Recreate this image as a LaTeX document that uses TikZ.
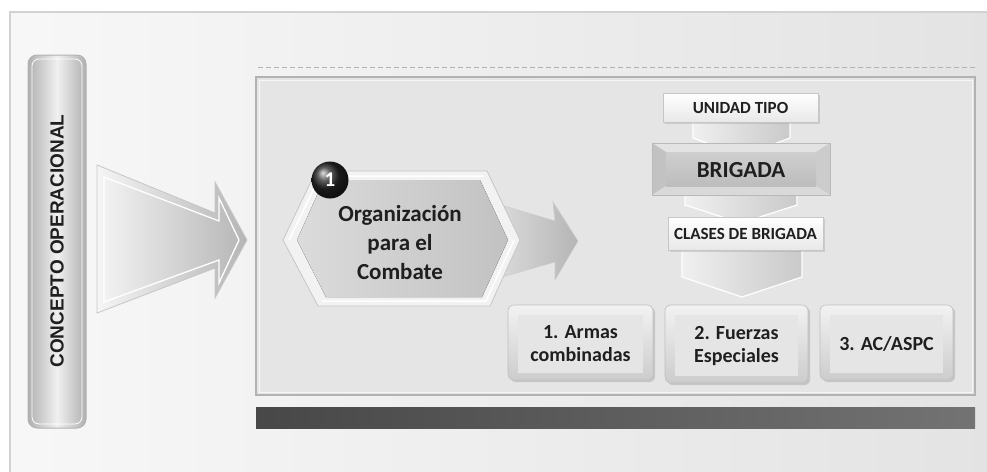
\documentclass[tikz,border=0pt]{standalone}
\usepackage{fontspec}
\newfontfamily\carl{Carlito}
\newfontfamily\libs{Liberation Sans}
\usetikzlibrary{shadows}
\tikzset{
  txt/.style={text=black!88},
  chev/.style={draw=white, line width=1.2, left color=gray!12, right color=gray!42},
  whitebox/.style={draw=gray!45, line width=0.6, top color=white, bottom color=gray!18, drop shadow={opacity=0.25}},
  btn/.style={draw=gray!50, line width=0.6, rounded corners=6, top color=gray!10, bottom color=gray!40, drop shadow={opacity=0.3}},
  btninner/.style={fill=gray!20},
  btntext/.style={txt, align=center, font=\carl\bfseries\fontsize{20}{23}\selectfont},
  captext/.style={txt, font=\carl\bfseries\fontsize{17}{19}\selectfont},
}
\begin{document}
\begin{tikzpicture}[x=1pt,y=-1pt]
\useasboundingbox (0,0) rectangle (987,471);
\fill[white] (0,0) rectangle (987,471);
% outer frame
\draw[gray!35, line width=1.5, left color=gray!6, right color=gray!22] (10,12) rectangle (1000,480);
% concepto bar
\draw[gray!60, line width=1, rounded corners=9, left color=gray!62, right color=gray!62, middle color=gray!12] (28,55) rectangle (86,428);
\draw[white, line width=0.8, rounded corners=7] (32,59) rectangle (82,424);
\node[rotate=90, font=\libs\bfseries\fontsize{19}{21}\selectfont, text=black!88] (concepto) at (57,241) {CONCEPTO OPERACIONAL};
% big arrow
\path[draw=gray!45, line width=0.8, left color=gray!8, right color=gray!58] (97,165) -- (215,213) -- (215,182) -- (247,240) -- (215,298) -- (215,268) -- (97,313) -- cycle;
\draw[white, line width=1.3] (104,177) -- (219,221) -- (219,198) -- (239,240) -- (219,283) -- (219,260) -- (104,302) -- cycle;
% dashed line and inner panel
\draw[gray!60, dashed, line width=0.8, dash pattern=on 5pt off 3pt] (258,67) -- (975,67);
\draw[gray!60, line width=2, fill=gray!20] (256,77) rectangle (975,395);
\draw[gray!8, line width=0.8] (259,80) rectangle (972,392);
% dark bar
\fill[left color=black!72, right color=black!55] (256,407) rectangle (975,428);
% small arrow
\path[left color=gray!18, right color=gray!58, draw=gray!40, line width=0.6] (470,196) -- (555,221) -- (553,202) -- (578,241) -- (555,280) -- (555,262) -- (470,286) -- cycle;
% hexagon
\draw[gray!45, line width=0.8, fill=gray!10] (283,240) -- (316,171) -- (487,171) -- (520,240) -- (490,306) -- (318,306) -- cycle;
\fill[left color=gray!28, right color=gray!48] (297,240) -- (324,180) -- (480,180) -- (508,240) -- (482,297) -- (326,297) -- cycle;
\draw[white, line width=1.5] (289,240) -- (320,176) -- (484,176);
\draw[white, line width=1.5] (514,240) -- (486,301) -- (322,301);
\node[circle, minimum size=37, inner sep=0, ball color=black!85, text=white, font=\carl\bfseries\fontsize{21}{22}\selectfont] (num) at (330,180) {1};
\node[txt, align=center, font=\carl\bfseries\fontsize{23}{29}\selectfont] (org) at (400,243) {Organización\\para el\\Combate};
% chevrons
\path[chev] (693,122) -- (790,122) -- (790,138) -- (742,156) -- (693,138) -- cycle;
\path[chev] (685,194) -- (797,194) -- (797,205) -- (741,223) -- (685,205) -- cycle;
\path[chev] (682,250) -- (802,250) -- (802,277) -- (742,297) -- (682,277) -- cycle;
% unidad tipo
\node[whitebox, minimum width=155, minimum height=29, inner sep=0, captext] (ut) at (740.5,107.5) {UNIDAD TIPO};
% brigada
\fill[gray!22] (652,143) -- (830,143) -- (816,152) -- (666,152) -- cycle;
\fill[gray!48] (652,143) -- (666,152) -- (666,186) -- (652,195) -- cycle;
\fill[gray!40] (830,143) -- (816,152) -- (816,186) -- (830,195) -- cycle;
\fill[gray!30] (652,195) -- (666,186) -- (816,186) -- (830,195) -- cycle;
\fill[top color=gray!38, bottom color=gray!52] (666,152) rectangle (816,186);
\draw[gray!55, line width=0.6] (652,143) rectangle (830,195);
\node[txt, font=\carl\bfseries\fontsize{23}{25}\selectfont] (brig) at (741,170) {BRIGADA};
% clases
\node[whitebox, minimum width=155, minimum height=33, inner sep=0, captext] (clases) at (745.5,233.5) {CLASES DE BRIGADA};
% buttons
\path[btn] (508,305) rectangle (653,380);
\fill[btninner] (518,315) rectangle (643,373);
\node[btntext] (b1) at (580.5,344) {1. Armas\\combinadas};
\path[btn] (665,305) rectangle (808,383);
\fill[btninner] (675,315) rectangle (798,376);
\node[btntext] (b2) at (736.5,346) {2. Fuerzas\\Especiales};
\path[btn] (820,305) rectangle (953,380);
\fill[btninner] (830,315) rectangle (943,373);
\node[btntext] (b3) at (886.5,344) {3. AC/ASPC};
\end{tikzpicture}
\end{document}
